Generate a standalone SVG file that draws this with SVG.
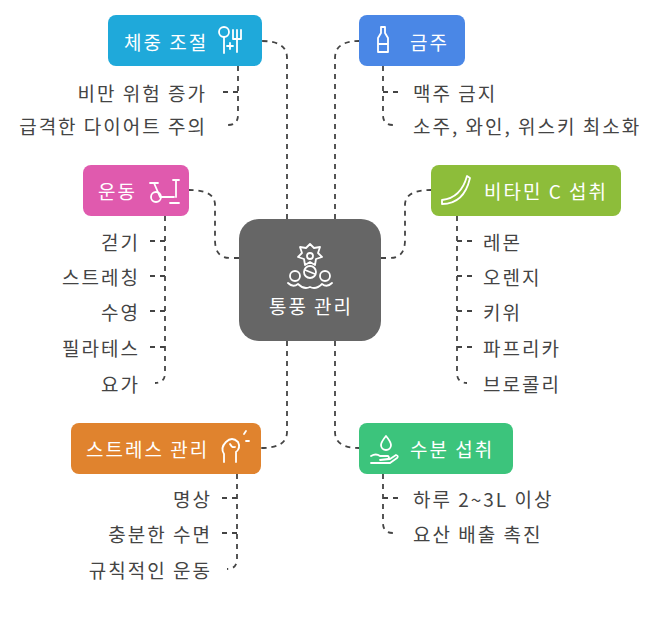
<svg xmlns="http://www.w3.org/2000/svg" width="645" height="624" viewBox="0 0 645 624">
<style>
.c{fill:none;stroke:#444;stroke-width:1.8;stroke-dasharray:5 5}
.t{font-family:"Noto Sans CJK KR","Noto Sans",sans-serif;font-size:19px;letter-spacing:2px;fill:#444;dominant-baseline:central}
.n{font-family:"Noto Sans CJK KR","Noto Sans",sans-serif;font-size:19px;letter-spacing:2px;fill:#fff;dominant-baseline:central}
.i{fill:none;stroke:#fff;stroke-width:1.8;stroke-linecap:round;stroke-linejoin:round}
</style>
<rect width="645" height="624" fill="#fff"/>
<g id="connectors">
<path class="c" d="M287 219V58Q287 41 262 41"/>
<path class="c" d="M335 219V58Q335 41 359 41"/>
<path class="c" d="M239 258H230Q215 258 215 240V205Q215 190 189 190"/>
<path class="c" d="M381 258H390Q405 258 405 240V205Q405 190 431 190"/>
<path class="c" d="M287 341V432Q287 448 261 448"/>
<path class="c" d="M335 341V432Q335 448 359 448"/>
<path class="c" d="M238 66V115Q238 125 228 125M238 92H220"/>
<path class="c" d="M383 66V115Q383 125 393 125M383 92H401"/>
<path class="c" d="M165 216V373Q165 383 155 383M165 241H148M165 276H148M165 311H148M165 347H148"/>
<path class="c" d="M457 216V373Q457 383 467 383M457 241H474M457 276H474M457 311H474M457 347H474"/>
<path class="c" d="M237 474V559Q237 569 227 569M237 498H220M237 533H220"/>
<path class="c" d="M383 474V523Q383 533 393 533M383 498H401"/>
</g>
<g id="center">
<rect x="239" y="219" width="142" height="122" rx="20" fill="#666"/>
<g class="i" stroke-width="1.5">
<path d="M310 244l4 4 6-1-2 6 4 4-6 2-1 6-5-3-5 3-1-6-6-2 4-4-2-6 6 1z"/><circle cx="310" cy="256" r="3"/>
<circle cx="295" cy="276" r="5"/><circle cx="310" cy="272" r="6"/><circle cx="325" cy="276" r="5"/>
<path d="M305 270l10 4M288 283q5 5 10 1 6 6 12 3 6 3 12-3 5 4 10-1"/>
</g>
<text class="n" x="311" y="305" text-anchor="middle">통풍 관리</text>
</g>
<g id="n1"><rect x="108" y="15" width="154" height="51" rx="8" fill="#1fa9da"/><text class="n" x="124" y="41">체중 조절</text>
<g class="i"><circle cx="224" cy="32" r="5"/><path d="M224 37v16M233 30v9m4-9v22m4-22v9M233 39h8"/><path d="M227 46h6m-3-3v6"/></g></g>
<g id="n2"><rect x="359" y="15" width="106" height="51" rx="8" fill="#4a87e6"/><text class="n" x="410" y="41">금주</text>
<g class="i"><path d="M381 27h4v6l3 5v14h-10V38l3-5z"/><path d="M379 44h8"/></g></g>
<g id="n3"><rect x="83" y="165" width="106" height="51" rx="8" fill="#e05aae"/><text class="n" x="98" y="190">운동</text>
<g class="i"><circle cx="156" cy="197" r="5"/><path d="M150 183h8m-4 0l6 14h14M176 180v17m-3-17h6M170 203h9"/></g></g>
<g id="n4"><rect x="431" y="165" width="190" height="51" rx="8" fill="#8dbd3a"/><text class="n" x="484" y="190">비타민 C 섭취</text>
<g class="i"><path d="M442 204q22 0 28-26l-3-2q-6 22-25 24z"/></g></g>
<g id="n5"><rect x="71" y="423" width="190" height="51" rx="8" fill="#e0832e"/><text class="n" x="86" y="448">스트레스 관리</text>
<g class="i"><path d="M224 462v-8q-4-6 2-12t12 0q3 6-2 10v10M230 444q2 4 5 3M244 434l2-3M246 441h3"/></g></g>
<g id="n6"><rect x="359" y="423" width="154" height="51" rx="8" fill="#3cc47c"/><text class="n" x="410" y="448">수분 섭취</text>
<g class="i"><path d="M386 436q-5 6-5 9a5 5 0 0 0 10 0q0-3-5-9z"/><path d="M371 456q5-3 9 0h8q2 2 0 3l-8 1 10-1 6-4q3 1 1 3l-7 5h-19"/></g></g>
<g id="leaves">
<text class="t" x="207" y="92" text-anchor="end">비만 위험 증가</text>
<text class="t" x="207" y="125" text-anchor="end">급격한 다이어트 주의</text>
<text class="t" x="413" y="92">맥주 금지</text>
<text class="t" x="413" y="125">소주, 와인, 위스키 최소화</text>
<text class="t" x="140" y="241" text-anchor="end">걷기</text>
<text class="t" x="140" y="276" text-anchor="end">스트레칭</text>
<text class="t" x="140" y="311" text-anchor="end">수영</text>
<text class="t" x="140" y="347" text-anchor="end">필라테스</text>
<text class="t" x="140" y="383" text-anchor="end">요가</text>
<text class="t" x="483" y="241">레몬</text>
<text class="t" x="483" y="276">오렌지</text>
<text class="t" x="483" y="311">키위</text>
<text class="t" x="483" y="347">파프리카</text>
<text class="t" x="483" y="383">브로콜리</text>
<text class="t" x="212" y="498" text-anchor="end">명상</text>
<text class="t" x="212" y="533" text-anchor="end">충분한 수면</text>
<text class="t" x="212" y="569" text-anchor="end">규칙적인 운동</text>
<text class="t" x="413" y="498">하루 2~3L 이상</text>
<text class="t" x="413" y="533">요산 배출 촉진</text>
</g>
</svg>
